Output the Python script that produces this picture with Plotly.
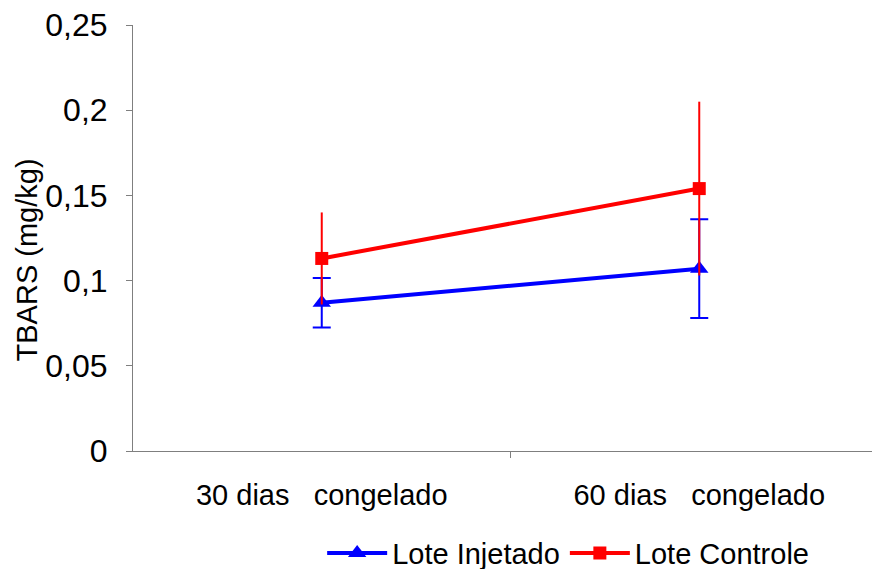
import plotly.graph_objects as go

categories = ["30 dias   congelado", "60 dias   congelado"]
injetado = [0.087, 0.107]
injetado_err = [0.0145, 0.029]
controle = [0.113, 0.154]
controle_err = [0.027, 0.051]
yticks = [0, 0.05, 0.1, 0.15, 0.2, 0.25]
yticklabels = ["0", "0,05", "0,1", "0,15", "0,2", "0,25"]
ytitle = "TBARS (mg/kg)"

xpos = list(range(len(categories)))
FONT = "Liberation Sans, Arial, sans-serif"

fig = go.Figure()
fig.add_trace(go.Scatter(
    x=xpos, y=injetado, name="Lote Injetado", mode="lines+markers",
    line=dict(color="#0000FF", width=4),
    marker=dict(symbol="triangle-up", size=16, color="#0000FF"),
    error_y=dict(type="data", array=injetado_err, color="#0000FF", thickness=2, width=9),
))
fig.add_trace(go.Scatter(
    x=xpos, y=controle, name="Lote Controle", mode="lines+markers",
    line=dict(color="#FF0000", width=4),
    marker=dict(symbol="square", size=13, color="#FF0000"),
    error_y=dict(type="data", array=controle_err, color="#FF0000", thickness=2, width=0),
))

fig.add_annotation(text=ytitle, textangle=-90, xref="paper", yref="paper",
                   x=-0.140, y=0.448, xanchor="center", yanchor="middle", showarrow=False,
                   font=dict(size=29, family=FONT, color="black"))

fig.update_layout(
    width=880, height=569,
    margin=dict(l=125, r=0, t=17, b=126, autoexpand=False),
    paper_bgcolor="white", plot_bgcolor="white",
    font=dict(family=FONT, color="black"),
    showlegend=True,
    legend=dict(orientation="h", xref="container", x=0.357, xanchor="left",
                yref="container", y=0.042, yanchor="middle", itemwidth=60,
                font=dict(size=29, family=FONT), tracegroupgap=0),
    xaxis=dict(range=[-0.5, 1.5], tickvals=xpos, ticktext=categories, ticks="",
               showline=True, linecolor="#7f7f7f", linewidth=1, showgrid=False, zeroline=False,
               tickfont=dict(size=29, family=FONT), ticklabelstandoff=18, automargin=False,
               ticklabeloverflow="allow",
               minor=dict(tickvals=[0.5], ticks="outside", ticklen=6, tickcolor="#7f7f7f")),
    yaxis=dict(range=[0, 0.25], tickvals=yticks, ticktext=yticklabels, ticks="outside",
               ticklen=6, tickcolor="#7f7f7f", showline=True, linecolor="#7f7f7f", linewidth=1,
               showgrid=False, zeroline=False, tickfont=dict(size=32, family=FONT),
               ticklabelstandoff=12, automargin=False, ticklabeloverflow="allow"),
)

fig.write_html("out.html")
